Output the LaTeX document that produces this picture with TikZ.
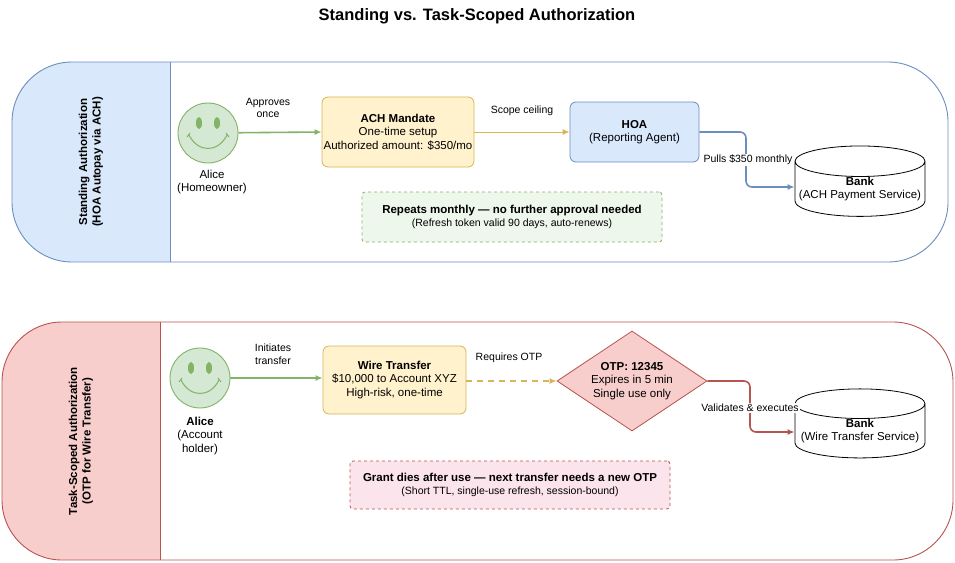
\documentclass[tikz,border=0pt]{standalone}
\usepackage{fontspec}
\setmainfont{Liberation Sans}
\usetikzlibrary{shapes.geometric,arrows.meta}
\definecolor{bfill}{HTML}{DAE8FC}\definecolor{bdraw}{HTML}{6C8EBF}
\definecolor{rfill}{HTML}{F8CECC}\definecolor{rdraw}{HTML}{B85450}
\definecolor{gfill}{HTML}{D5E8D4}\definecolor{gdraw}{HTML}{82B366}
\definecolor{yfill}{HTML}{FFF2CC}\definecolor{ydraw}{HTML}{D6B656}
\definecolor{glite}{HTML}{EEF7EC}\definecolor{plite}{HTML}{FCE4EC}
\begin{document}
\begin{tikzpicture}[x=1pt,y=-1pt,
  txt/.style={font=\fontsize{11.5}{13.5}\selectfont,align=center},
  lbl/.style={font=\fontsize{10.5}{12.5}\selectfont,align=center},
  box/.style={txt,draw,rounded corners=6pt,line width=0.8pt,inner sep=0pt},
  cyl/.style={txt,draw,fill=white,cylinder,shape border rotate=90,aspect=0.25,minimum width=130pt,minimum height=70pt,inner sep=0pt,line width=0.8pt},
  arr/.style={-{Latex[length=7pt,width=6pt]},line width=1.6pt},
  face/.style={circle,draw=gdraw,fill=gfill,minimum size=60pt,line width=0.9pt}]
\useasboundingbox (0,0) rectangle (955,562);
\node[font=\fontsize{16.5}{19}\selectfont\bfseries] (title) at (477,16) {Standing vs. Task-Scoped Authorization};
% lane 1
\begin{scope}
\clip[rounded corners=60pt] (12,62) rectangle (948,262);
\fill[bfill] (12,62) rectangle (170,262);
\end{scope}
\draw[bdraw,line width=0.9pt,rounded corners=60pt] (12,62) rectangle (948,262);
\draw[bdraw,line width=0.9pt] (170,62) -- (170,262);
\node[txt,font=\fontsize{11.5}{13.5}\selectfont\bfseries,rotate=90] (h1) at (91,162) {Standing Authorization\\(HOA Autopay via ACH)};
% lane 2
\begin{scope}
\clip[rounded corners=60pt] (2,322) rectangle (953,560);
\fill[rfill] (2,322) rectangle (160,560);
\end{scope}
\draw[rdraw,line width=0.9pt,rounded corners=60pt] (2,322) rectangle (953,560);
\draw[rdraw,line width=0.9pt] (160,322) -- (160,560);
\node[txt,font=\fontsize{11.5}{13.5}\selectfont\bfseries,rotate=90] (h2) at (81,441) {Task-Scoped Authorization\\(OTP for Wire Transfer)};
% smileys
\foreach \n/\cx/\cy in {f1/208/133,f2/200/378}{
  \node[face] (\n) at (\cx,\cy) {};
  \fill[gdraw] (\cx-9,\cy-10) ellipse (3pt and 6pt);
  \fill[gdraw] (\cx+9,\cy-10) ellipse (3pt and 6pt);
  \draw[gdraw,line width=1pt] (\cx-19,\cy+2) .. controls (\cx-10,\cy+20) and (\cx+10,\cy+20) .. (\cx+19,\cy+2);
  \draw[gdraw,line width=1pt] (\cx-21,\cy+4)--(\cx-18,\cy) (\cx+21,\cy+4)--(\cx+18,\cy);
}
\node[txt] (a1) at (212,182) {Alice\\(Homeowner)};
\node[txt] (a2) at (200,436) {\textbf{Alice}\\(Account\\holder)};
% top flow
\node[box,fill=yfill,draw=ydraw,minimum width=152pt,minimum height=70pt] (ach) at (398,132) {\textbf{ACH Mandate}\\One-time setup\\Authorized amount: \$350/mo};
\node[box,fill=bfill,draw=bdraw,minimum width=129pt,minimum height=60pt] (hoa) at (634.5,132) {\textbf{HOA}\\(Reporting Agent)};
\node[cyl] (bank1) at (860,189) {\textbf{Bank}\\(ACH Payment Service)};
\draw[arr,gdraw] (f1) -- (ach.west);
\node[lbl] (l1) at (268,108) {Approves\\once};
\draw[arr,ydraw,line width=1pt] (ach) -- (hoa);
\node[lbl] (l2) at (522,111) {Scope ceiling};
\draw[arr,bdraw,rounded corners=6pt] (hoa.east) -- (746,132) -- (746,187) -- (bank1.west|-0,187);
\node[lbl,fill=white,inner sep=1pt] (l3) at (748,160) {Pulls \$350 monthly};
\node[box,dashed,fill=glite,draw=gdraw,rounded corners=3pt,minimum width=300pt,minimum height=50pt] (n1) at (512,217) {\textbf{Repeats monthly — no further approval needed}\\[-1pt]{\fontsize{10.5}{12.5}\selectfont(Refresh token valid 90 days, auto-renews)}};
% bottom flow
\node[box,fill=yfill,draw=ydraw,minimum width=143pt,minimum height=68pt] (wire) at (394.5,380) {\textbf{Wire Transfer}\\\$10,000 to Account XYZ\\High-risk, one-time};
\node[diamond,fill=rfill,draw=rdraw,line width=0.8pt,minimum width=150pt,minimum height=100pt,inner sep=0pt] (otp) at (632,381) {};
\node[txt] (otpt) at (632,381) {\textbf{OTP: 12345}\\Expires in 5 min\\Single use only};
\node[cyl,minimum height=66pt] (bank2) at (860,431) {\textbf{Bank}\\(Wire Transfer Service)};
\draw[arr,gdraw] (f2) -- (wire.west|-f2);
\node[lbl] (l4) at (273,354) {Initiates\\transfer};
\draw[arr,ydraw,dashed,dash pattern=on 6pt off 5pt] (wire.east|-otp) -- (otp.west);
\node[lbl] (l5) at (509,358) {Requires OTP};
\draw[arr,rdraw,rounded corners=6pt] (otp.east) -- (750,381) -- (750,432) -- (bank2.west|-0,432);
\node[lbl,fill=white,inner sep=1pt] (l6) at (750,408) {Validates \& executes};
\node[box,dashed,fill=plite,draw=rdraw,rounded corners=3pt,minimum width=320pt,minimum height=48pt] (n2) at (510,485) {\textbf{Grant dies after use — next transfer needs a new OTP}\\[-1pt]{\fontsize{10.5}{12.5}\selectfont(Short TTL, single-use refresh, session-bound)}};
\end{tikzpicture}
\end{document}
